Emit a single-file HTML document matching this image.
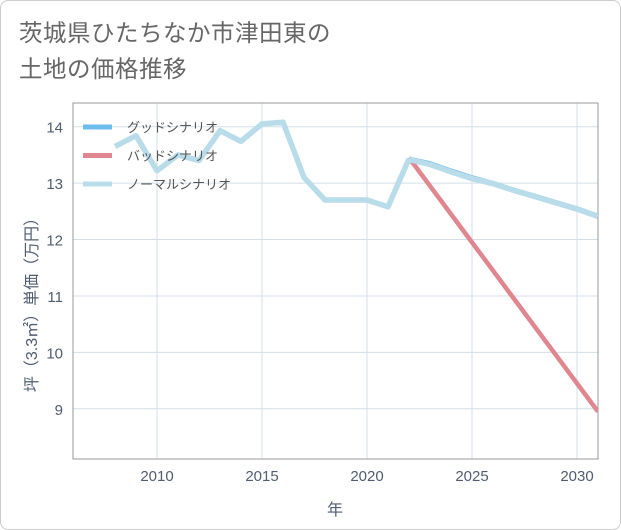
<!DOCTYPE html>
<html><head><meta charset="utf-8"><style>
body{margin:0;background:#fff;}
#wrap{position:relative;width:619px;height:528px;border:1px solid #ccc;border-radius:8px;overflow:hidden;font-family:"Liberation Sans","Noto Sans CJK JP",sans-serif;}
#title{position:absolute;left:18px;top:14px;font-size:23.5px;line-height:36px;color:#666;letter-spacing:0.5px;}
svg{position:absolute;left:0;top:0;}
</style></head><body>
<div id="wrap">
<div id="title">茨城県ひたちなか市津田東の<br>土地の価格推移</div>
<svg id="chart" width="621" height="530"></svg>
</div>
<script>
const years=[2008,2009,2010,2011,2012,2013,2014,2015,2016,2017,2018,2019,2020,2021,2022];
const histVals=[13.65,13.84,13.22,13.5,13.4,13.93,13.74,14.05,14.08,13.1,12.7,12.7,12.7,12.58,13.43];
const futYears=[2022,2023,2024,2025,2026,2027,2028,2029,2030,2031];
const goodVals=[13.43,13.35,13.22,13.1,13.0,12.88,12.77,12.66,12.55,12.42];
const normalVals=[13.42,13.33,13.2,13.08,12.99,12.87,12.76,12.65,12.54,12.41];
const badVals=[13.45,12.95,12.45,11.95,11.45,10.95,10.45,9.95,9.45,8.95];
const xTicks=[2010,2015,2020,2025,2030];
const yTicks=[9,10,11,12,13,14];
const legendNames=["グッドシナリオ","バッドシナリオ","ノーマルシナリオ"];
const legendColors=["#6cbcee","#e0868f","#b8dcea"];
const L=72,R=597,T=102,B=458;
const x=v=>L+(v-2006)*(R-L)/25;
const y=v=>B-(v-8.11)*(B-T)/(14.42-8.11);
const svg=document.getElementById('chart');
const NS='http://www.w3.org/2000/svg';
function mk(t,a){const e=document.createElementNS(NS,t);for(const k in a)e.setAttribute(k,a[k]);svg.appendChild(e);return e;}
for(const t of xTicks){const e=mk('line',{x1:x(t),x2:x(t),y1:T,y2:B,stroke:'#d3dfe8','stroke-width':1});


const s=mk('text',{x:x(t),y:480,'text-anchor':'middle','font-size':15,fill:'#4f5d70'});s.textContent=t;

}
for(const t of yTicks){const e=mk('line',{x1:L,x2:R,y1:y(t),y2:y(t),stroke:'#d3dfe8','stroke-width':1});


const s=mk('text',{x:62,y:y(t)+6,'text-anchor':'end','font-size':15,fill:'#4f5d70'});s.textContent=t;

}
const fr=mk('rect',{x:L,y:T,width:R-L,height:B-T,fill:'none',stroke:'#999','stroke-width':1});


const clip=mk('clipPath',{id:'cp'});const cr=document.createElementNS(NS,'rect');cr.setAttribute('x',L);cr.setAttribute('y',T);cr.setAttribute('width',R-L);cr.setAttribute('height',B-T);clip.appendChild(cr);
function line(xs,vs,c,w,name){const p=mk('polyline',{points:xs.map((v,i)=>x(v)+','+y(vs[i])).join(' '),fill:'none',stroke:c,'stroke-width':w,'stroke-linejoin':'round','clip-path':'url(#cp)'});

}
line(futYears,badVals,legendColors[1],4.5,'bad-scenario-line');
line(futYears,goodVals,legendColors[0],4.5,'good-scenario-line');
line(years,histVals,legendColors[2],5.5,'historical-line');
line(futYears,normalVals,legendColors[2],5.5,'normal-scenario-line');
legendNames.forEach((n,i)=>{const yy=126+i*28.5;
const l=mk('line',{x1:82,x2:111,y1:yy,y2:yy,stroke:legendColors[i],'stroke-width':5});


const t=mk('text',{x:126,y:yy+5,'font-size':13,fill:'#555'});t.textContent=n;

});
const xt=mk('text',{x:334,y:514,'text-anchor':'middle','font-size':16,fill:'#4f5d70'});xt.textContent='年';


const yt=mk('text',{x:0,y:0,'text-anchor':'middle','font-size':16,fill:'#4f5d70',transform:'translate(36,300) rotate(-90)'});yt.textContent='坪（3.3㎡）単価（万円）';


</script>
</body></html>
